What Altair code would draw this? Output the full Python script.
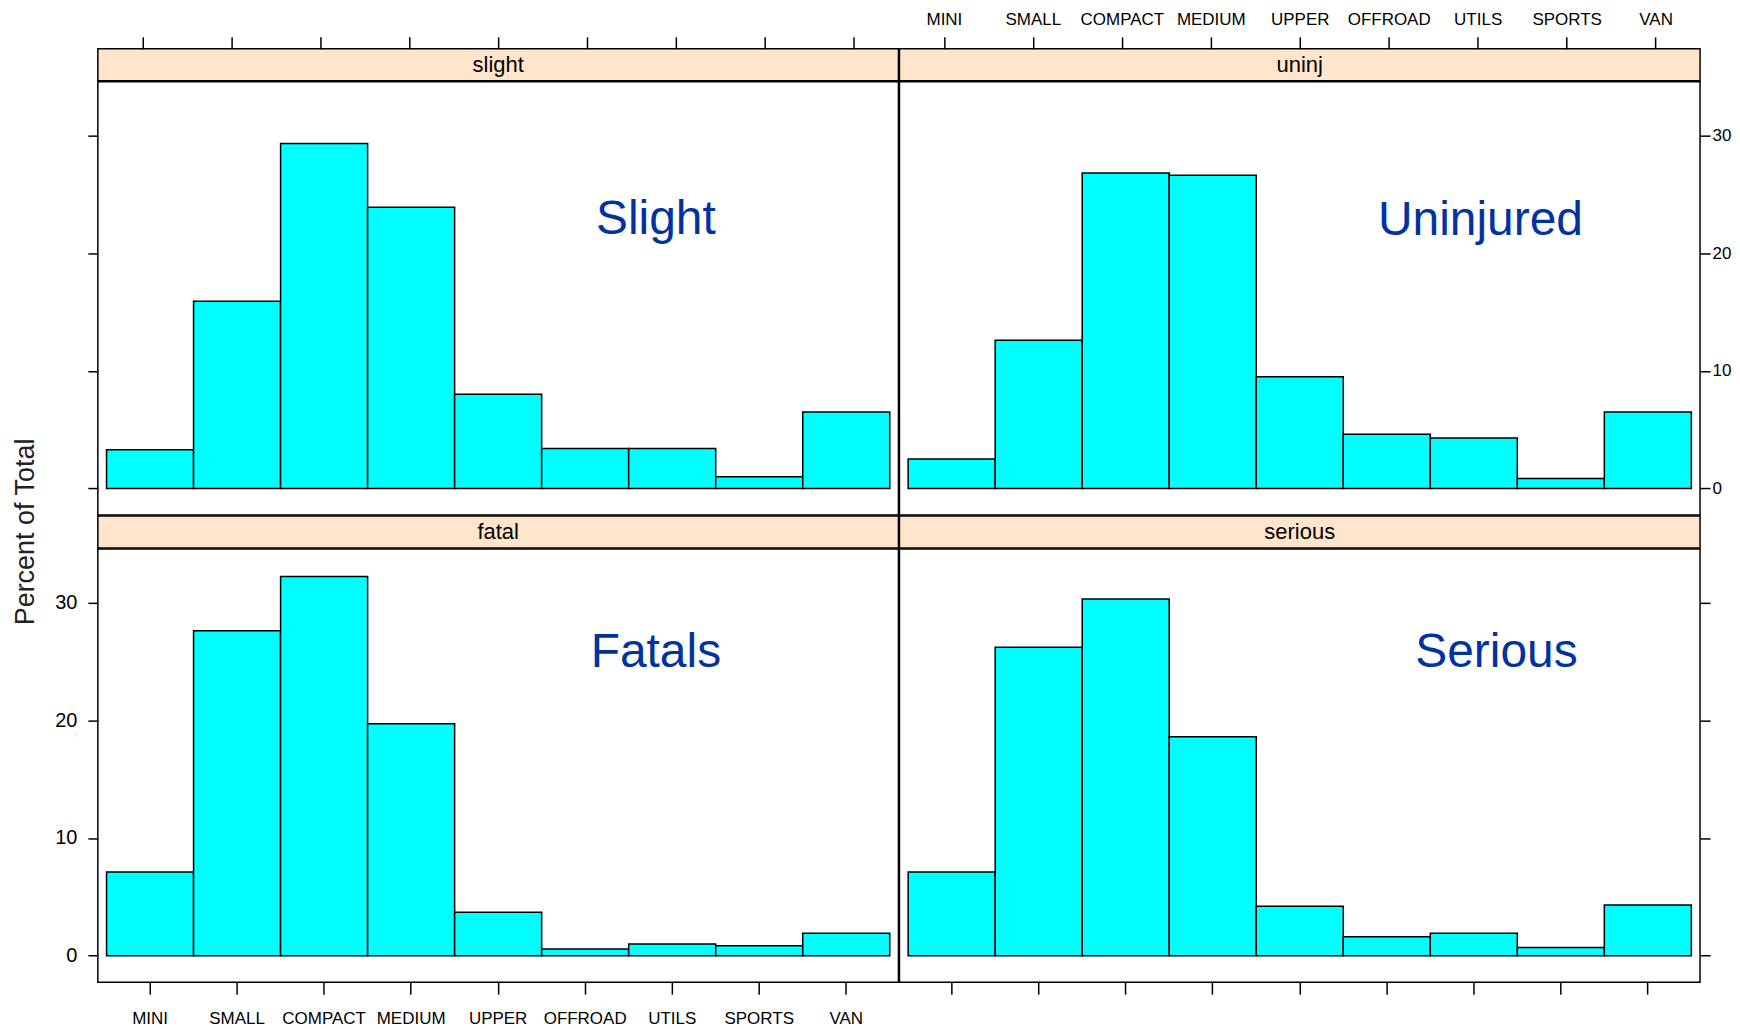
import altair as alt
import pandas as pd

categories = ["MINI", "SMALL", "COMPACT", "MEDIUM", "UPPER", "OFFROAD", "UTILS", "SPORTS", "VAN"]
slight = [3.3, 15.9, 29.3, 23.9, 8.0, 3.4, 3.4, 1.0, 6.5]
uninj = [2.5, 12.6, 26.8, 26.6, 9.5, 4.6, 4.3, 0.85, 6.5]
fatal = [7.1, 27.6, 32.2, 19.7, 3.7, 0.57, 1.0, 0.85, 1.9]
serious = [7.1, 26.2, 30.3, 18.6, 4.2, 1.6, 1.9, 0.7, 4.3]
y_ticks = [0, 10, 20, 30]
y_title = "Percent of Total"

W, H, SH = 802, 434, 32
CYAN = "#00FFFF"
STRIP = "#FFE5CC"
BLUE = "#0033A0"
FONT = "Liberation Sans"
SW = 1.5

xscale = alt.Scale(domain=categories, paddingInner=0, paddingOuter=0.1)
yscale = alt.Scale(domain=[-2.25, 34.55], nice=False, zero=False)


def xaxis(orient, labels, pad):
    return alt.Axis(orient=orient, labels=labels, ticks=True, domain=False, grid=False,
                    tickSize=12, tickWidth=1.5, tickColor="black",
                    labelFont=FONT, labelFontSize=17, labelColor="black",
                    labelPadding=pad, labelAngle=0, title=None)


def yaxis(orient, labels, pad, size):
    return alt.Axis(orient=orient, labels=labels, ticks=True, domain=False, grid=False,
                    values=y_ticks, tickSize=10, tickWidth=1.5, tickColor="black",
                    labelFont=FONT, labelFontSize=size, labelColor="black",
                    labelPadding=pad, title=None)


def strip(name, axis=None):
    lab = alt.Chart(pd.DataFrame({"t": [name]})).mark_text(
        font=FONT, fontSize=22, color="black", baseline="middle", align="center"
    ).encode(x=alt.value(W / 2), y=alt.value(SH / 2), text="t:N")
    layers = [lab]
    if axis is not None:
        tk = alt.Chart(pd.DataFrame({"cat": categories})).mark_point(opacity=0).encode(
            x=alt.X("cat:N", sort=categories, scale=xscale, axis=axis, title=None)
        )
        layers = [tk, lab]
    return alt.layer(*layers).properties(
        width=W, height=SH,
        view=alt.ViewBackground(fill=STRIP, stroke="black", strokeWidth=SW),
    )


def panel(vals, label, lx, ly, xax, yax):
    df = pd.DataFrame({"cat": categories, "pct": vals})
    bars = alt.Chart(df).mark_bar(fill=CYAN, stroke="black", strokeWidth=1.5).encode(
        x=alt.X("cat:N", sort=categories, scale=xscale, axis=xax, title=None),
        y=alt.Y("pct:Q", scale=yscale, axis=yax, title=None),
        y2=alt.datum(0),
    )
    txt = alt.Chart(pd.DataFrame({"t": [label]})).mark_text(
        font=FONT, fontSize=48, color=BLUE, align="center", baseline="alphabetic"
    ).encode(x=alt.value(lx), y=alt.value(ly), text="t:N")
    return alt.layer(bars, txt).properties(
        width=W, height=H,
        view=alt.ViewBackground(fill="white", stroke="black", strokeWidth=SW),
    )


s_tl = strip("slight", xaxis("top", False, 8))
s_tr = strip("uninj", xaxis("top", True, 8))
p_tl = panel(slight, "Slight", 559, 153, None, yaxis("left", False, 11, 20))
p_tr = panel(uninj, "Uninjured", 582, 154, None, yaxis("right", True, 2, 17))
s_bl = strip("fatal")
s_br = strip("serious")
p_bl = panel(fatal, "Fatals", 559, 118, xaxis("bottom", True, 16), yaxis("left", True, 11, 20))
p_br = panel(serious, "Serious", 598, 118, xaxis("bottom", False, 16), yaxis("right", False, 2, 17))

grid = alt.concat(s_tl, s_tr, p_tl, p_tr, s_bl, s_br, p_bl, p_br, columns=2, spacing=-1.5)

ylab = alt.Chart(pd.DataFrame({"t": [y_title]})).mark_text(
    font=FONT, fontSize=27, color="#222222", angle=270, align="center", baseline="middle"
).encode(x=alt.value(18.5), y=alt.value(484), text="t:N").properties(
    width=46, height=940, view=alt.ViewBackground(stroke=None)
)

chart = alt.hconcat(ylab, grid, spacing=0).properties(
    padding={"left": 0, "top": 1, "right": 0, "bottom": 0}
).configure_view(stroke="black")

chart.save("out.html", embed_options={"renderer": "svg", "actions": False})
